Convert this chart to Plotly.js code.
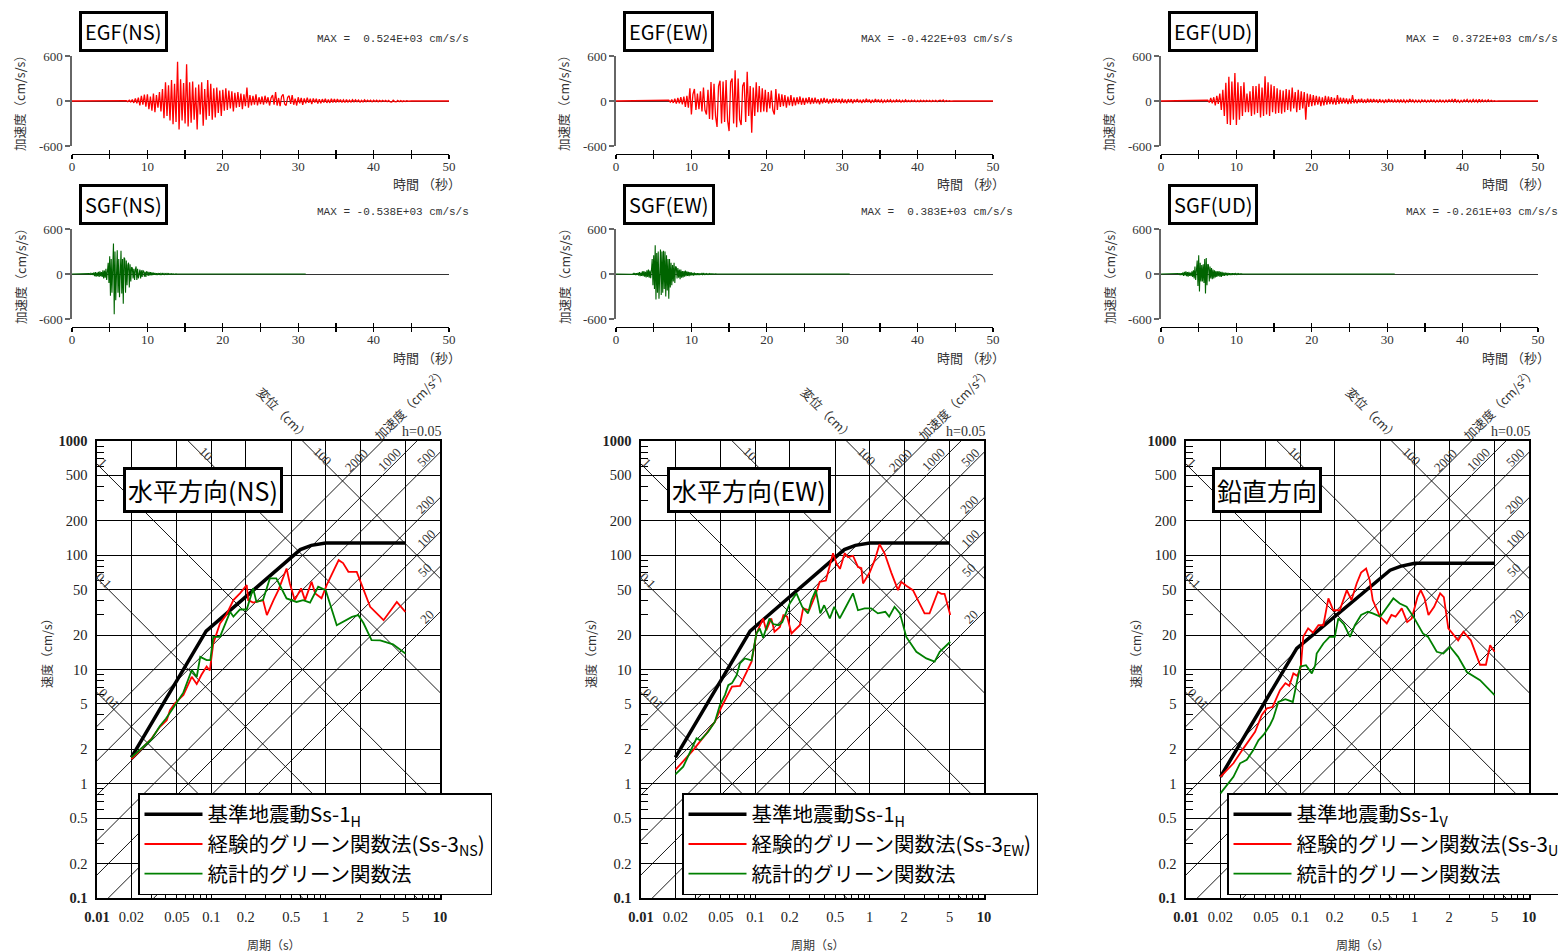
<!DOCTYPE html>
<html><head><meta charset="utf-8">
<script src="https://cdn.plot.ly/plotly-3.0.1.min.js"></script>
<style>html,body{margin:0;padding:0;background:#fff;}#chart{width:1558px;height:952px;}</style>
</head><body><div id="chart"></div>
<script>
// ---------------- DATA ----------------
const components = ['NS','EW','UD'];
const egfTitles = ['EGF(NS)','EGF(EW)','EGF(UD)'];
const sgfTitles = ['SGF(NS)','SGF(EW)','SGF(UD)'];
const egfMaxText = ['MAX =\u00a0\u00a00.524E+03 cm/s/s','MAX = -0.422E+03 cm/s/s','MAX =\u00a0\u00a00.372E+03 cm/s/s'];
const sgfMaxText = ['MAX = -0.538E+03 cm/s/s','MAX =\u00a0\u00a00.383E+03 cm/s/s','MAX = -0.261E+03 cm/s/s'];
const spectrumTitles = ['水平方向(NS)','水平方向(EW)','鉛直方向'];

// acceleration time histories (cm/s/s); EGF sampled every 0.2 s, SGF every 0.1 s
const egfDt = 0.2, sgfDt = 0.1, recordEnd = 50, sgfRecordEnd = 31;
const egfStart = [7.0, 6.8, 6.0];
const sgfStart = [2.0, 2.0, 2.0];
const egfNS = [0,5,-8,10,-12, 20,-25,35,-30,45, -60,70,-50,85,-75, 90,-110,60,-130,100, -150,80,-90,120,-140,
 160,-230,250,-200,210, -260,280,-310,230,-280, 524,-380,290,-260,240, -300,490,-340,250,-290, 260,-250,180,-380,220,
 -180,250,-330,160,-250, 280,-200,230,-250,170, -220,180,-160,140,-200, 150,-130,170,-120,140, -100,130,-140,110,-90,
 120,-80,100,-110,90, -70,180,-90,80,-60, 70,-50,90,-60,50, -40,60,-50,70,-30, 50,-60,40,80,-50,
 120,-60,40,-70,60, 90,-40,-60,50,70, -40,80,-50,30,-60, 50,-30,40,-50,35, -30,45,-25,30,-40,
 35,-20,30,-35,25, -30,25,-20,30,-25, 20,-25,30,-20,25, -20,25,-15,20,-18, 15,-20,18,-15,12,
 -15,18,-12,15,-10, 12,-15,10,-12,15, -10,12,-8,10,-12, 10,-8,12,-10,8, -8,10,-6,8,-10,
 8,-12,-15,10,-8, -12,8,-10,6,-8, 5,-6,4,-3,2, 0];
const egfEW = [0, 10,-15,20,-25,30, -35,40,-30,50,-45, 60,-80,70,-90,170, -180,90,160,-120,100, -110,130,-140,180,-120,
 -180,150,-240,252,-250, 230,-200,-347,200,270, -300,260,-280,280,-260, -401,250,300,-300,410, -350,300,-250,-320,200,
 250,-280,390,-200,200, -422,180,-200,250,-150, 200,-150,170,-140,150, -150,120,-100,140,-120, -180,160,-120,100,-80,
 90,-70,80,-90,60, -60,80,-70,50,-60, 50,-40,60,-50,40, -50,40,-30,50,-40, 40,-35,45,-30,25,
 -45,35,-30,40,-25, 30,-35,25,-30,35, -25,30,-20,25,-30, 30,-25,20,-30,25, -20,25,-30,20,-15,
 25,-20,15,-25,20, -20,30,-15,20,-25, 15,-20,25,-15,20, -18,15,-20,12,-15, 15,-12,18,-15,10,
 -12,15,-10,12,-15, 10,-12,15,-10,8, -10,12,-8,10,-12, 8,-10,12,-8,10, -8,10,-6,8,-10,
 8,-6,10,-8,6, 10,-6,15,-8,6, -5,4,-3,2,0];
const egfUD = [0,10,-20,40,-30, 50,-60,70,-40,100, -120,150,-200,242,-305, 322,-320,260,-250,372, -320,250,-250,200,-200,
 250,-150,100,-150,130, -200,200,-180,200,-160, 230,-220,180,-200,331, -180,250,-200,220,-150, 200,-170,170,-160,150,
 -170,140,-150,160,-120, 150,-140,180,-100,120, -150,150,-120,130,-100, 120,-250,100,-80,90, -70,80,-60,70,-50,
 60,-70,50,-60,70, -50,60,-40,50,-45, 40,-50,80,-40,45, -35,40,-30,35,-40, 30,-35,80,-30,25,
 -30,25,-20,30,-25, 20,-25,30,-20,25, -20,25,-15,20,-25, 25,-20,15,-25,20, -20,25,-15,20,-18,
 15,-20,18,-15,20, -18,15,-20,12,-15, 25,-12,15,-18,12, -15,12,-18,15,-10, 12,-15,10,-12,15,
 -10,12,-15,10,-12, 15,-12,10,-15,12, -12,15,-10,20,-12, 25,-15,12,-18,10, -12,15,-10,20,-15,
 12,-15,20,-12,15, -15,22,-12,15,-10, 12,-10,15,-8,10, -5,4,-3,2,0];
const sgfNS = [0,2,-3,5,-6,8,-10,12,-15,20, -30,25,-35,20,-28,30,-40,35,-30,25, -40,50,-60,45,-50,70,-80,60,150,-120,
 238,-291,200,-250,180,406,-538,300,-350,250, 318,-250,200,-310,280,309,-260,200,-397,220, 200,-250,180,-150,120,150,-180,130,-100,90,
 80,-60,70,-80,60,100,-80,70,-60,50, 60,-60,50,-40,45,40,-35,30,-40,35, 20,-25,30,-20,25,-18,20,-15,18,-12,
 15,-12,10,-15,12,-8,10,-12,8,-6, 8,-6,7,-8,5,-6,8,-5,6,-4, 5,-4,3,-5,4,-3,2,-3,2,-1, 0];
const sgfEW = [0,3,-5,8,-10,12,-15,10,-12,15, -20,25,-30,20,-25,35,-30,40,-35,30, -45,50,-40,60,-50,45,-55,50,200,-150,
 250,-200,383,-340,280,-250,300,-330,200,326, -280,300,-250,310,-200,300,-300,250,-220,200, -330,200,-180,150,-150,120,-100,150,-120,100,
 90,-60,80,-50,60,-70,60,-50,40,-45, 40,-35,45,-30,35,-25,30,-28,25,-20, 20,-18,15,-20,18,-15,12,-15,10,-12,
 10,-12,8,-10,12,-8,6,-8,6,-5, 6,-5,4,-6,5,-4,3,-4,3,-2, 2,-2,1,-1,0];
const sgfUD = [0,2,-4,6,-8,10,-12,10,-15,20, -25,30,-20,35,-30,25,-35,30,-25,20, -30,35,-40,50,-60,100,-80,120,180,-160,
 250,-234,150,-100,120,-100,130,-120,200,-261, 212,-150,130,120,-100,100,-60,80,-70,60, -60,50,-45,40,-40,35,-30,40,-35,30,
 -40,30,-25,20,-25,20,-18,15,-20,15, -15,12,-15,10,-12,10,-8,10,-8,6, -8,6,-5,6,-4,3,-3,2,-1,0];

// pseudo-velocity response spectra (h=0.05): period (s) and Sv (cm/s)
const ss1H_T  = [0.02, 0.09, 0.6, 0.75, 1.0, 5.0];
const ss1H_Sv = [1.7, 21.7, 112, 122, 128, 128];
const ss1V_T  = [0.02, 0.093, 0.61, 0.75, 1.0, 5.0];
const ss1V_Sv = [1.15, 15.3, 74, 80, 85, 85];

const egfNS_T  = [0.02,0.0254,0.0301,0.0355,0.0407,0.0435,0.048,0.057,0.0674,0.0745,0.082,0.091,0.097,0.104,0.119,0.135,0.156,0.178,0.204,0.21,0.232,0.283,0.306,0.35,0.386,0.455,0.486,0.536,0.61,0.66,0.753,0.81,0.92,1.02,1.17,1.30,1.42,1.58,1.87,2.14,2.45,3.21,4.19,4.98];
const egfNS_Sv = [1.64,2.1,2.5,3.15,3.6,4.4,5.05,5.97,8.63,7.45,9.0,10.6,9.8,16.9,25.3,30,40.5,46.4,54.7,40.5,38.5,40.5,29.9,40.5,49.5,76.6,56.6,40.5,51.3,40.5,58.5,46.4,42,54.7,74,90.6,85.5,71.6,71.6,49.5,35.4,27,39,32];
const sgfNS_T  = [0.02,0.0254,0.03,0.0355,0.04,0.045,0.05,0.057,0.0674,0.0745,0.08,0.091,0.098,0.104,0.119,0.146,0.156,0.178,0.204,0.232,0.248,0.283,0.325,0.37,0.455,0.556,0.635,0.73,0.86,1.0,1.25,1.7,1.93,2.14,2.52,3.0,3.88,4.98];
const sgfNS_Sv = [1.7,2.1,2.45,3.2,3.7,4.4,5.2,6.3,9.9,8.6,12.9,12.1,12.1,19.3,19.3,32,29,33.5,33.5,51.3,39,40.5,62.7,62.7,41.9,39,40.5,38.5,53,49.5,24.4,28.9,29.9,25.5,18.1,18,16.6,13.8];
const egfEW_T  = [0.02,0.0286,0.0374,0.0443,0.0507,0.0599,0.0625,0.0733,0.081,0.0927,0.1023,0.117,0.1245,0.138,0.147,0.164,0.176,0.19,0.207,0.245,0.262,0.296,0.331,0.366,0.414,0.478,0.513,0.55,0.605,0.647,0.715,0.74,0.79,0.846,0.875,1.0,1.106,1.22,1.35,1.545,1.71,1.77,1.89,2.09,2.39,2.73,3.02,3.34,3.95,4.23,4.52,5.07];
const egfEW_Sv = [1.32,1.97,2.76,3.49,4.72,6.6,7.07,7.2,8.93,11.7,20.7,28,22,28,21.4,23.5,29.9,29,20.7,24.4,34.3,33,43.3,58.5,60,104,84.7,76,104,96,99,92,79,77,56.6,70.5,90.6,125,104,70.5,53,49.5,58.5,54,49.5,37.8,31,31,47.9,46,46,30];
const sgfEW_T  = [0.02,0.0234,0.0306,0.033,0.0387,0.0443,0.049,0.0542,0.058,0.0625,0.0686,0.0733,0.081,0.0927,0.1023,0.109,0.117,0.133,0.143,0.16,0.172,0.2,0.229,0.257,0.289,0.31,0.338,0.37,0.4,0.448,0.49,0.547,0.62,0.715,0.79,0.904,1.03,1.18,1.37,1.48,1.65,1.84,2.09,2.56,3.13,3.7,4.1,5.07];
const sgfEW_Sv = [1.21,1.41,2.5,2.4,2.85,3.49,4.89,5.97,7.3,7.6,8.9,11.3,12.5,12,20.7,22.9,19,28,25,24.4,26,37.8,46.4,35.4,31,40.5,49.5,31,36.5,28,35.4,28,35.4,46.4,33,34.3,34.3,31,32,29,35.4,31,19.3,14.3,12.5,11.7,14.3,17.5];
const egfUD_T  = [0.02,0.026,0.0318,0.0402,0.0459,0.051,0.0572,0.0664,0.074,0.08,0.0869,0.094,0.101,0.106,0.117,0.129,0.144,0.159,0.176,0.194,0.221,0.255,0.28,0.311,0.34,0.376,0.405,0.43,0.498,0.57,0.626,0.68,0.771,0.86,0.942,1.06,1.13,1.22,1.32,1.48,1.67,1.8,1.97,2.4,2.67,3.1,3.73,4.2,4.57,5.0];
const egfUD_Sv = [1.15,1.51,2.04,2.85,3.99,4.57,4.7,6.6,7.6,7.2,9.25,8.8,10.5,19.3,22.9,21,24.4,24.4,41.9,33,33,49.5,40.5,56.6,70.5,76.6,60,40.5,28.9,25.3,30,29,34.3,26,27.9,43.3,49.5,41.9,30,35.4,46.4,43,22.9,18,21.4,18,11,11,16.3,14.3];
const sgfUD_T  = [0.02,0.0227,0.026,0.0297,0.034,0.0388,0.043,0.048,0.0543,0.058,0.0642,0.074,0.086,0.094,0.1,0.112,0.126,0.135,0.139,0.159,0.18,0.2,0.215,0.24,0.272,0.3,0.34,0.39,0.43,0.5,0.55,0.651,0.74,0.85,0.975,1.18,1.31,1.56,1.78,2.04,2.4,2.86,3.73,5.0];
const sgfUD_Sv = [0.824,0.975,1.15,1.51,1.62,1.97,2.4,2.7,3.27,3.75,5.2,5.5,5.2,8.07,10.6,10.9,9.25,10.9,13.8,16.9,19.3,19.3,28,25,19.3,24.4,30,32,31,29,33,41.9,37.8,35.4,29,20.7,19.3,14.3,13.8,15.8,12.9,9.5,8.07,5.97];

// axis ticks / guide lines
const periodTicks = [0.01,0.02,0.05,0.1,0.2,0.5,1,2,5,10];
const periodTickText = ['<b>0.01</b>','0.02','0.05','0.1','0.2','0.5','1','2','5','<b>10</b>'];
const velTicks = [0.1,0.2,0.5,1,2,5,10,20,50,100,200,500,1000];
const velTickText = ['<b>0.1</b>','0.2','0.5','1','2','5','10','20','50','100','200','500','<b>1000</b>'];
const minorMantissa = [3,4,6,7,8,9];
const dispLines = [0.01,0.1,1,10,100];          // cm
const accLines = [20,50,100,200,500,1000,2000]; // cm/s2
const timeTicks = [0,10,20,30,40,50];
const timeMinorTicks = [5,15,25,35,45];
const timeAllTicks = [0,5,10,15,20,25,30,35,40,45,50];
const accTicks = [-600,0,600];
const accTickText = ['-600','0','600'];
const dispLabels = [['10',206,453],['100',323,456],['1',103,462],['0.1',104,580],['0.01',109,698]];
const accLabels = [['2000',356,460],['1000',389,459],['500',426,457],['200',425,504],['100',426,538],['50',424,570],['20',427,616]];

// ---------------- LAYOUT ----------------
const W = 1558, H = 952;
const colOffset = [0, 544, 1089];
const SERIF = '"Liberation Serif","DejaVu Serif",serif';
const JP = '"Noto Sans CJK JP","Noto Sans",sans-serif';
const MONO = '"Liberation Mono","DejaVu Sans Mono",monospace';
const px = x => x / W, py = y => 1 - y / H;
const ax = (p, n) => p + (n === 1 ? '' : n);

const layout = {
  width: W, height: H, margin: {l:0, r:0, t:0, b:0, autoexpand:false},
  paper_bgcolor: '#fff', plot_bgcolor: '#fff', hovermode: false,
  annotations: [], font: {family: SERIF, color: '#333'}
};
const data = [];
function ann(o) {
  layout.annotations.push(Object.assign({xref:'paper', yref:'paper', showarrow:false, xanchor:'center', yanchor:'middle'}, o));
}

const egfSets = [egfNS, egfEW, egfUD], sgfSets = [sgfNS, sgfEW, sgfUD];
const specSets = [
  {bT: ss1H_T, bS: ss1H_Sv, rT: egfNS_T, rS: egfNS_Sv, gT: sgfNS_T, gS: sgfNS_Sv, sub: 'H'},
  {bT: ss1H_T, bS: ss1H_Sv, rT: egfEW_T, rS: egfEW_Sv, gT: sgfEW_T, gS: sgfEW_Sv, sub: 'H'},
  {bT: ss1V_T, bS: ss1V_Sv, rT: egfUD_T, rS: egfUD_Sv, gT: sgfUD_T, gS: sgfUD_Sv, sub: 'V'}
];

function series(t0, dt, vals, tEnd) {
  const x = [0], y = [0];
  vals.forEach((v, i) => { x.push(+(t0 + i * dt).toFixed(3)); y.push(v); });
  x.push(tEnd); y.push(0);
  return {x, y};
}

function timePlot(n, ovl, ox, dy, vals, t0, dt, tEnd, color, width, title, maxText) {
  const pos = py(154 + dy);
  layout[ax('xaxis', n)] = {
    domain: [px(72 + ox), px(449 + ox)], range: [0, 50], anchor: 'free', position: pos,
    showline: true, linecolor: '#000', linewidth: 1.3, ticks: 'inside', ticklen: 4, tickwidth: 1.3, tickcolor: '#000',
    tickmode: 'array', tickvals: timeTicks, showgrid: false, zeroline: false,
    minor: {tickmode: 'array', tickvals: timeMinorTicks, ticks: 'inside', ticklen: 4, tickwidth: 1.3, tickcolor: '#000', showgrid: false},
    tickfont: {family: SERIF, size: 13, color: '#333'}
  };
  layout[ax('xaxis', ovl)] = {
    overlaying: ax('x', n), anchor: 'free', position: pos, range: [0, 50],
    ticks: 'outside', ticklen: 4, tickwidth: 1.3, tickcolor: '#000', tickmode: 'array', tickvals: timeAllTicks,
    showticklabels: false, showline: false, showgrid: false, zeroline: false
  };
  layout[ax('yaxis', n)] = {
    domain: [py(146 + dy), py(56 + dy)], range: [-600, 600], anchor: ax('x', n),
    showline: true, linecolor: '#666', linewidth: 1.6, ticks: 'outside', ticklen: 5, tickcolor: '#666', tickwidth: 1.5,
    tickmode: 'array', tickvals: accTicks, ticktext: accTickText, showgrid: false,
    zeroline: true, zerolinecolor: '#333', zerolinewidth: 1,
    tickfont: {family: SERIF, size: 13, color: '#333'}
  };
  const s = series(t0, dt, vals, tEnd);
  data.push({type: 'scatter', mode: 'lines', x: s.x, y: s.y, xaxis: ax('x', n), yaxis: ax('y', n),
    line: {color: color, width: width}, showlegend: false, hoverinfo: 'skip'});
  data.push({type: 'scatter', mode: 'lines', x: [], y: [], xaxis: ax('x', ovl), yaxis: ax('y', n), showlegend: false, hoverinfo: 'skip'});
  ann({text: title, x: px(79 + ox), y: py(11 + dy), xanchor: 'left', yanchor: 'top',
    font: {family: JP, size: 20, color: '#000'}, bordercolor: '#000', borderwidth: 3, borderpad: 3, bgcolor: '#fff'});
  ann({text: maxText, x: px(471 + ox), y: py(39 + dy), xanchor: 'right',
    font: {family: MONO, size: 11, color: '#333'}});
  ann({text: '時間 （秒）', x: px(463 + ox), y: py(184 + dy), xanchor: 'right',
    font: {family: JP, size: 13, color: '#333'}});
  ann({text: '加速度（cm/s/s）', x: px(20 + ox), y: py(100 + dy), textangle: -90,
    font: {family: JP, size: 12.5, color: '#333'}});
}

function minorVals(decades) {
  const out = [];
  decades.forEach(d => minorMantissa.forEach(m => out.push(+(m * d).toPrecision(3))));
  return out;
}

function spectrumPlot(n, c, ox) {
  const legendName = c === 0 ? 'legend' : 'legend' + (c + 1);
  const common = {
    type: 'log', showline: true, mirror: true, linecolor: '#000', linewidth: 1.6,
    tickmode: 'array', ticks: '', showgrid: true, gridcolor: '#000', gridwidth: 1, zeroline: false,
    tickfont: {family: SERIF, size: 14.5, color: '#222'}, ticklabelstandoff: 5
  };
  layout[ax('xaxis', n)] = Object.assign({}, common, {
    domain: [px(97 + ox), px(440 + ox)], range: [-2, 1], anchor: ax('y', n),
    tickvals: periodTicks, ticktext: periodTickText,
    minor: {tickmode: 'array', tickvals: minorVals([0.01, 0.1, 1]), ticks: 'inside', ticklen: 7, tickcolor: '#000', tickwidth: 1, showgrid: false}
  });
  layout[ax('yaxis', n)] = Object.assign({}, common, {
    domain: [py(898), py(441)], range: [-1, 3], anchor: ax('x', n),
    tickvals: velTicks, ticktext: velTickText,
    minor: {tickmode: 'array', tickvals: minorVals([0.1, 1, 10, 100]), ticks: 'inside', ticklen: 7, tickcolor: '#000', tickwidth: 1, showgrid: false}
  });
  const xa = ax('x', n), ya = ax('y', n);
  const tLo = 0.001, tHi = 100;
  dispLines.forEach(d => data.push({type: 'scatter', mode: 'lines', xaxis: xa, yaxis: ya,
    x: [tLo, tHi], y: [2 * Math.PI * d / tLo, 2 * Math.PI * d / tHi],
    line: {color: '#000', width: 0.9}, showlegend: false, hoverinfo: 'skip'}));
  accLines.forEach(a => data.push({type: 'scatter', mode: 'lines', xaxis: xa, yaxis: ya,
    x: [tLo, tHi], y: [a * tLo / (2 * Math.PI), a * tHi / (2 * Math.PI)],
    line: {color: '#000', width: 0.9}, showlegend: false, hoverinfo: 'skip'}));
  const s = specSets[c];
  data.push({type: 'scatter', mode: 'lines', xaxis: xa, yaxis: ya, x: s.bT, y: s.bS,
    name: '基準地震動Ss-1<sub>' + s.sub + '</sub>', legend: legendName, legendrank: 1,
    line: {color: '#000', width: 3.5}, hoverinfo: 'skip'});
  data.push({type: 'scatter', mode: 'lines', xaxis: xa, yaxis: ya, x: s.rT, y: s.rS,
    name: '経験的グリーン関数法(Ss-3<sub>' + components[c] + '</sub>)', legend: legendName, legendrank: 2,
    line: {color: '#ff0000', width: 1.8}, hoverinfo: 'skip'});
  data.push({type: 'scatter', mode: 'lines', xaxis: xa, yaxis: ya, x: s.gT, y: s.gS,
    name: '統計的グリーン関数法', legend: legendName, legendrank: 3,
    line: {color: '#008000', width: 1.8}, hoverinfo: 'skip'});
  layout[legendName] = {
    x: px(138 + ox), y: py(793), xanchor: 'left', yanchor: 'top', bgcolor: '#fff',
    bordercolor: '#000', borderwidth: 1.5, font: {family: JP, size: 20.5, color: '#000'},
    traceorder: 'normal', itemwidth: 58, tracegroupgap: 0
  };
  ann({text: spectrumTitles[c], x: px(123 + ox), y: py(467), xanchor: 'left', yanchor: 'top',
    font: {family: JP, size: 25, color: '#000'}, bordercolor: '#000', borderwidth: 3, borderpad: 2, bgcolor: '#fff'});
  ann({text: '変位（cm）', x: px(284 + ox), y: py(413), textangle: 45, font: {family: JP, size: 12.5, color: '#333'}});
  ann({text: '加速度（cm/s<sup>2</sup>）', x: px(410 + ox), y: py(403), textangle: -45, font: {family: JP, size: 12.5, color: '#333'}});
  ann({text: 'h=0.05', x: px(443 + ox), y: py(432), xanchor: 'right', font: {family: SERIF, size: 14, color: '#333'}});
  ann({text: '速度（cm/s）', x: px(46 + ox), y: py(650), textangle: -90, font: {family: JP, size: 12, color: '#333'}});
  ann({text: '周期（s）', x: px(274 + ox), y: py(944), font: {family: JP, size: 12, color: '#333'}});
  dispLabels.forEach(l => ann({text: l[0], x: px(l[1] + ox), y: py(l[2]), textangle: 45, font: {family: SERIF, size: 13, color: '#333'}}));
  accLabels.forEach(l => ann({text: l[0], x: px(l[1] + ox), y: py(l[2]), textangle: -45, font: {family: SERIF, size: 13, color: '#333'}}));
}

for (let c = 0; c < 3; c++) {
  const ox = colOffset[c];
  timePlot(3 * c + 1, 10 + 2 * c, ox, 0, egfSets[c], egfStart[c], egfDt, recordEnd, '#ff0000', 1.3, egfTitles[c], egfMaxText[c]);
  timePlot(3 * c + 2, 11 + 2 * c, ox, 173, sgfSets[c], sgfStart[c], sgfDt, sgfRecordEnd, '#006400', 1.1, sgfTitles[c], sgfMaxText[c]);
  spectrumPlot(3 * c + 3, c, ox);
}

Plotly.newPlot('chart', data, layout, {displayModeBar: false, staticPlot: true});
</script></body></html>
